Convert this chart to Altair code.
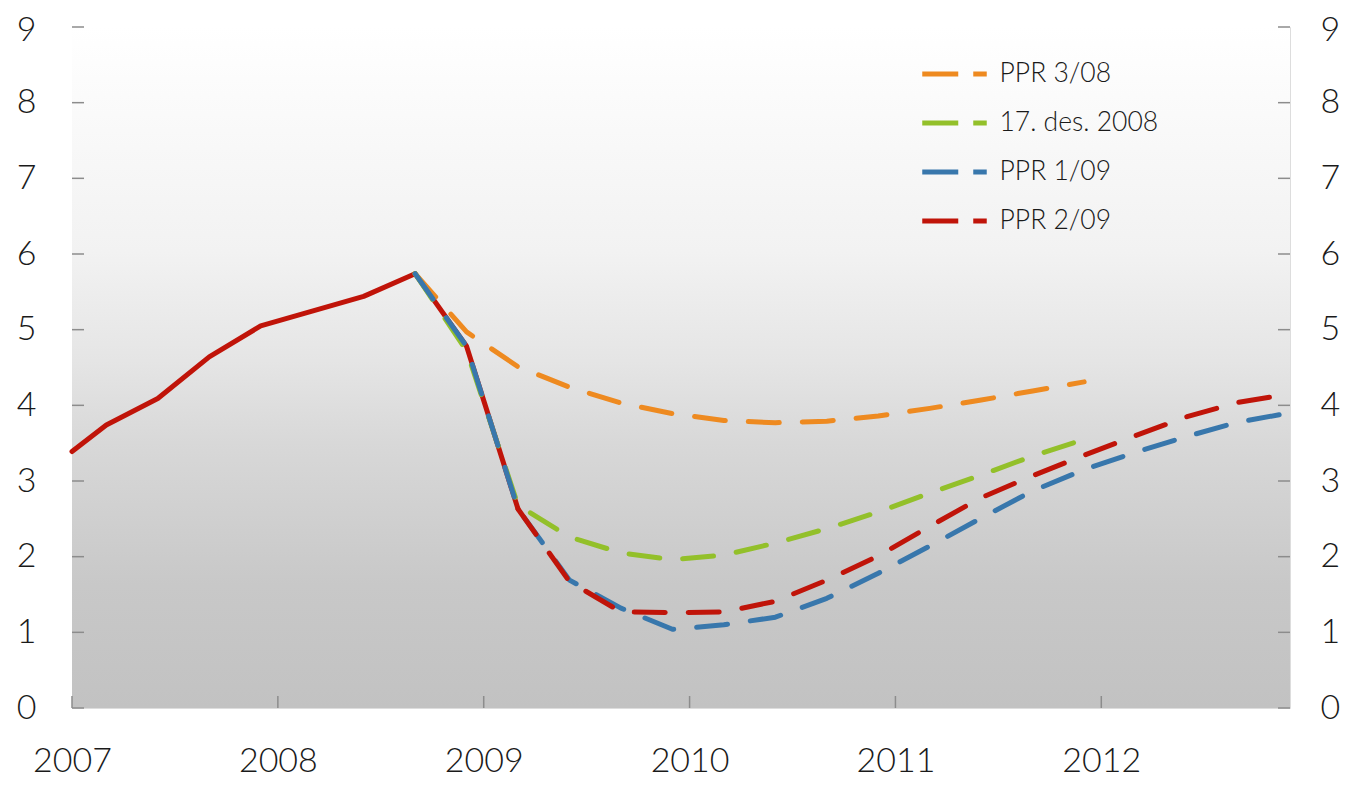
import altair as alt
import pandas as pd

# ---------------- data ----------------
HIST_MONTHS = ["2007-01", "2007-03", "2007-06", "2007-09", "2007-12",
               "2008-06", "2008-09", "2008-12", "2009-03"]
HIST_VALUES = [3.39, 3.74, 4.09, 4.64, 5.05, 5.44, 5.74, 4.78, 2.63]

PROJ_MONTHS = ["2008-09", "2008-12", "2009-03", "2009-06", "2009-09", "2009-12",
               "2010-03", "2010-06", "2010-09", "2010-12", "2011-03", "2011-06",
               "2011-09", "2011-12", "2012-03", "2012-06", "2012-09", "2012-12"]

PPR_3_08 = [5.74, 4.97, 4.51, 4.24, 4.03, 3.89, 3.80, 3.77, 3.79, 3.86, 3.96,
            4.07, 4.19, 4.31]
DES_2008 = [5.74, 4.72, 2.68, 2.26, 2.05, 1.96, 2.02, 2.18, 2.37, 2.59, 2.84,
            3.08, 3.33, 3.55]
PPR_1_09 = [5.74, 4.78, 2.63, 1.69, 1.32, 1.04, 1.10, 1.20, 1.45, 1.78, 2.14,
            2.51, 2.87, 3.15, 3.38, 3.59, 3.78, 3.90]
PPR_2_09 = [2.63, 1.67, 1.27, 1.26, 1.27, 1.41, 1.69, 2.01, 2.40, 2.78, 3.07,
            3.34, 3.60, 3.85, 4.04, 4.15]

SERIES = ["PPR 3/08", "17. des. 2008", "PPR 1/09", "PPR 2/09"]
COLORS = ["#EE8A20", "#93C02A", "#3877AC", "#C01409"]

X_TICKS = [2007, 2008, 2009, 2010, 2011, 2012]
Y_TICKS = [0, 1, 2, 3, 4, 5, 6, 7, 8, 9]


def dec(m):
    y, mo = m.split("-")
    return int(y) + (int(mo) - 1) / 12.0


hist = pd.DataFrame({"t": [dec(m) for m in HIST_MONTHS], "v": HIST_VALUES})

rows = []
for name, vals, start in [("PPR 3/08", PPR_3_08, 0), ("17. des. 2008", DES_2008, 0),
                          ("PPR 1/09", PPR_1_09, 0), ("PPR 2/09", PPR_2_09, 2)]:
    for m, v in zip(PROJ_MONTHS[start:], vals):
        rows.append({"series": name, "t": dec(m), "v": v})
proj = pd.DataFrame(rows)

W, H = 1218, 681
FONT = "Lato"
GRAY = "#8C8C8C"
TOP_LABEL_SHIFT = {"expr": "datum.value == 9 ? 3 : 0"}

xscale = alt.Scale(domain=[2007, 2012 + 11 / 12], nice=False, zero=False)
yscale = alt.Scale(domain=[0, 9], nice=False, zero=True)

no_axis_y = alt.Y("v:Q", scale=yscale, axis=None)

# background gradient
bg = alt.Chart(pd.DataFrame({"a": [0]})).mark_rect(
    color=alt.LinearGradient(
        gradient="linear", x1=0, x2=0, y1=0, y2=1,
        stops=[alt.GradientStop(color="#FFFFFF", offset=0),
               alt.GradientStop(color="#F2F2F2", offset=0.33),
               alt.GradientStop(color="#E5E5E5", offset=0.49),
               alt.GradientStop(color="#D8D8D8", offset=0.61),
               alt.GradientStop(color="#C8C8C8", offset=0.82),
               alt.GradientStop(color="#C2C2C2", offset=1)])
).encode(x=alt.value(0), x2=alt.value(W), y=alt.value(0), y2=alt.value(H))

hist_line = alt.Chart(hist).mark_line(
    color=COLORS[3], strokeWidth=5, strokeCap="round", strokeJoin="round"
).encode(
    x=alt.X("t:Q", scale=xscale,
            axis=alt.Axis(values=X_TICKS, format="d", title=None, ticks=False,
                          domain=False, grid=False, labelFont=FONT,
                          labelFontSize=34, labelFontWeight=300,
                          labelColor="#1a1a1a", labelPadding=36,
                          labelFlush=False)),
    y=alt.Y("v:Q", scale=yscale,
            axis=alt.Axis(values=Y_TICKS, title=None, ticks=False, domain=False,
                          grid=False, labelFont=FONT, labelFontSize=34,
                          labelFontWeight=300, labelColor="#1a1a1a",
                          labelPadding=36, labelFlush=False,
                          labelOffset=TOP_LABEL_SHIFT)),
)

color_enc = alt.Color(
    "series:N",
    scale=alt.Scale(domain=SERIES, range=COLORS),
    legend=alt.Legend(title=None, orient="none", legendX=847.5, legendY=12,
                      symbolType="stroke", symbolSize=4160, symbolStrokeWidth=5,
                      symbolDash=[36, 15], labelFont=FONT, labelFontSize=26.5,
                      labelFontWeight=300, labelColor="#1a1a1a", labelOffset=10,
                      rowPadding=0, padding=0),
)


def proj_layer(name):
    return alt.Chart(proj).transform_filter(alt.datum.series == name).mark_line(
        strokeWidth=5, strokeCap="round", strokeJoin="round", strokeDash=[31, 23]
    ).encode(x=alt.X("t:Q", scale=xscale), y=no_axis_y, color=color_enc)


xt = alt.Chart(pd.DataFrame({"year": X_TICKS})).mark_rule(
    color=GRAY, strokeWidth=1.5
).encode(x=alt.X("year:Q", scale=xscale), y=alt.value(H - 12), y2=alt.value(H))

yt_left = alt.Chart(pd.DataFrame({"v": Y_TICKS})).mark_rule(
    color=GRAY, strokeWidth=1.5
).encode(y=no_axis_y, x=alt.value(0), x2=alt.value(12))

yt_right = alt.Chart(pd.DataFrame({"v": Y_TICKS})).mark_rule(
    color=GRAY, strokeWidth=1.5
).encode(
    y=alt.Y("v:Q", scale=yscale,
            axis=alt.Axis(orient="right", values=Y_TICKS, title=None, ticks=False,
                          domain=False, grid=False, labelFont=FONT,
                          labelFontSize=34, labelFontWeight=300,
                          labelColor="#1a1a1a", labelPadding=30,
                          labelFlush=False, labelOffset=TOP_LABEL_SHIFT)),
    x=alt.value(W - 12), x2=alt.value(W),
)

chart = alt.layer(
    bg, hist_line,
    proj_layer("PPR 3/08"), proj_layer("17. des. 2008"),
    proj_layer("PPR 1/09"), proj_layer("PPR 2/09"),
    xt, yt_left, yt_right,
).resolve_scale(y="independent").properties(
    width=W, height=H,
    autosize=alt.AutoSizeParams(type="none"),
    padding={"left": 64, "top": 19, "right": 50, "bottom": 70},
).configure_view(stroke=GRAY, strokeWidth=2).configure(background="white")

chart.save("out.html", embed_options={"renderer": "svg", "actions": False})
